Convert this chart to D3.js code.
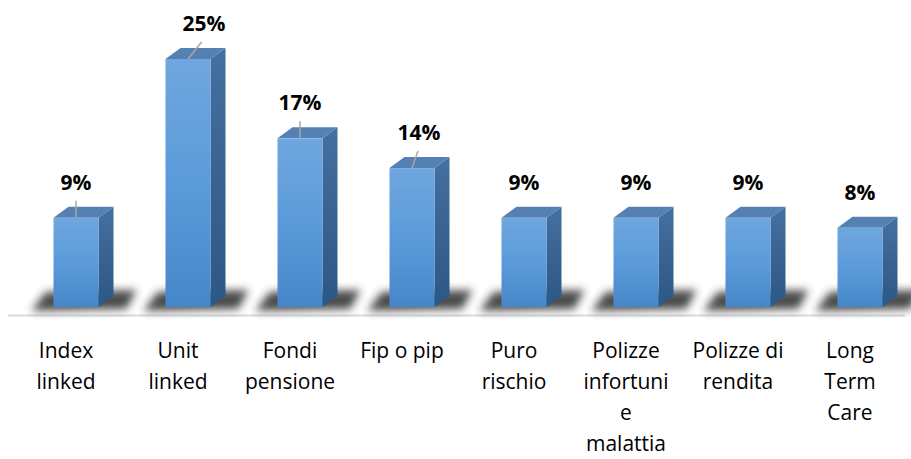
<!DOCTYPE html>
<html lang="it">
<head>
<meta charset="UTF-8">
<title>Polizze</title>
<script src="https://cdn.jsdelivr.net/npm/d3@7"></script>
<style>
  body { margin: 0; background: #fff; }
  svg { display: block; }
  .cat { font-family: "Open Sans", Lato, sans-serif; font-size: 21px; fill: #000; }
  .val { font-family: "Open Sans", Lato, sans-serif; font-size: 21px; font-weight: bold; fill: #000; }
</style>
</head>
<body>
<script>
  // data
  var categories = ["Index linked", "Unit linked", "Fondi pensione", "Fip o pip",
                    "Puro rischio", "Polizze infortuni e malattia", "Polizze di rendita", "Long Term Care"];
  var tickLines = [["Index", "linked"], ["Unit", "linked"], ["Fondi", "pensione"], ["Fip o pip"],
                   ["Puro", "rischio"], ["Polizze", "infortuni", "e", "malattia"], ["Polizze di", "rendita"],
                   ["Long", "Term", "Care"]];
  var values = [9, 25, 17, 14, 9, 9, 9, 8];

  var W = 911, H = 459;
  var base = 307, depthX = 15, depthY = 11, barW = 45;

  var svg = d3.select("body").append("svg").attr("width", W).attr("height", H);
  var defs = svg.append("defs");

  var x = d3.scaleBand().domain(categories).range([10, 906]);
  var y = d3.scaleLinear().domain([0, 25]).range([base, 59]);

  var front = defs.append("linearGradient").attr("id", "front").attr("x1", 0).attr("y1", 0).attr("x2", 0).attr("y2", 1);
  front.append("stop").attr("offset", "0%").attr("stop-color", "#6fa6df");
  front.append("stop").attr("offset", "50%").attr("stop-color", "#5b9bd9");
  front.append("stop").attr("offset", "100%").attr("stop-color", "#4687cb");
  var side = defs.append("linearGradient").attr("id", "side").attr("x1", 0).attr("y1", 0).attr("x2", 0).attr("y2", 1);
  side.append("stop").attr("offset", "0%").attr("stop-color", "#44709f");
  side.append("stop").attr("offset", "100%").attr("stop-color", "#2d5784");

  defs.append("filter").attr("id", "blur").attr("x", "-50%").attr("y", "-100%").attr("width", "200%").attr("height", "300%")
    .append("feGaussianBlur").attr("stdDeviation", 4.5);

  // ground line
  svg.append("line").attr("x1", 8).attr("x2", 905).attr("y1", 315.5).attr("y2", 315.5)
    .attr("stroke", "#d9d9d9").attr("stroke-width", 2);

  var g = svg.append("g").selectAll("g").data(categories).join("g");

  function fx(d) { return x(d) + x.bandwidth() / 2 - barW / 2 + 10; }

  // soft floor shadow
  g.append("path")
    .attr("d", function(d) {
      var l = fx(d);
      return "M" + (l - 8) + "," + (base - 15) + "L" + (l + barW + 38) + "," + (base - 17) +
        "L" + (l + barW + 28) + "," + (base + 2) + "L" + (l - 22) + "," + (base + 4) + "Z";
    })
    .attr("fill", "#2a2a2a").attr("opacity", 0.85).attr("filter", "url(#blur)");

  // side face
  g.append("path")
    .attr("d", function(d, i) {
      var r = fx(d) + barW, t = y(values[i]);
      return "M" + r + "," + t + "L" + (r + depthX) + "," + (t - depthY) + "L" + (r + depthX) + "," + (base - depthY) +
        "L" + r + "," + base + "Z";
    })
    .attr("fill", "url(#side)");

  // top face
  g.append("path")
    .attr("d", function(d, i) {
      var l = fx(d), t = y(values[i]);
      return "M" + l + "," + t + "L" + (l + depthX) + "," + (t - depthY) + "L" + (l + barW + depthX) + "," + (t - depthY) +
        "L" + (l + barW) + "," + t + "Z";
    })
    .attr("fill", "#5580b2");

  // front face
  g.append("rect")
    .attr("x", function(d) { return fx(d); })
    .attr("y", function(d, i) { return y(values[i]); })
    .attr("width", barW)
    .attr("height", function(d, i) { return base - y(values[i]); })
    .attr("fill", "url(#front)");

  // labels pulled off the bar get a small leader line
  var shift = [0, 16, 0, 7, 0, 0, 0, 0];
  var leader = [true, true, true, true, false, false, false, false];

  g.filter(function(d, i) { return leader[i]; })
    .append("line")
    .attr("x1", function(d) { return fx(d) + barW / 2 + shift[categories.indexOf(d)] * 0.85; })
    .attr("y1", function(d) { return y(values[categories.indexOf(d)]) - 17; })
    .attr("x2", function(d) { return fx(d) + barW / 2; })
    .attr("y2", function(d) { return y(values[categories.indexOf(d)]); })
    .attr("stroke", "#a6a6a6").attr("stroke-width", 1.5);

  // value labels
  g.append("text").attr("class", "val")
    .attr("text-anchor", "middle")
    .attr("x", function(d, i) { return fx(d) + barW / 2 + shift[i]; })
    .attr("y", function(d, i) { return y(values[i]) - 28; })
    .text(function(d, i) { return values[i] + "%"; });

  // category labels
  g.append("text").attr("class", "cat")
    .attr("text-anchor", "middle")
    .attr("transform", function(d) { return "translate(" + (x(d) + x.bandwidth() / 2) + ",358)"; })
    .selectAll("tspan").data(function(d, i) { return tickLines[i]; }).join("tspan")
    .attr("x", 0).attr("dy", function(d, j) { return j ? 31 : 0; })
    .text(function(d) { return d; });
</script>
</body>
</html>
